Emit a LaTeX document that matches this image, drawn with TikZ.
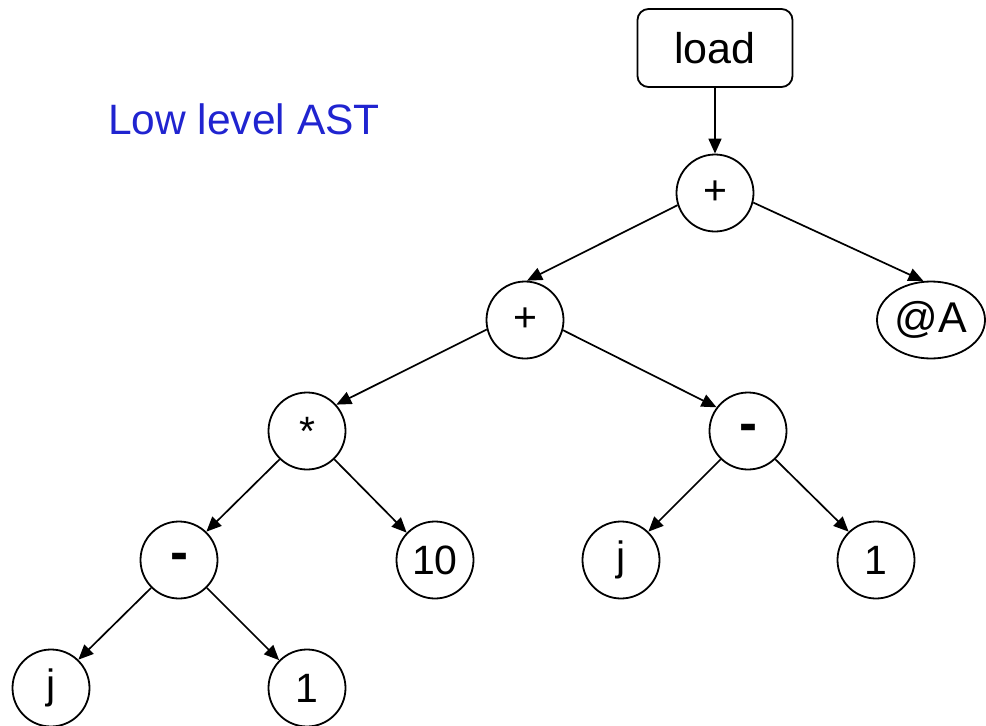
\documentclass[tikz,border=0pt]{standalone}
\usepackage{fontspec}
\setmainfont{Liberation Sans}
\usetikzlibrary{arrows.meta,shapes.geometric}
\definecolor{titleblue}{RGB}{32,36,208}
\tikzset{
  astnode/.style={circle,draw,line width=1.8pt,minimum size=77pt,inner sep=0pt,
    font=\fontsize{41pt}{48pt}\selectfont},
  opnode/.style={astnode,font=\fontsize{54pt}{60pt}\selectfont\bfseries,
    text height=21pt,text depth=0pt},
  loadbox/.style={rectangle,rounded corners=11pt,draw,line width=1.8pt,
    minimum width=155pt,minimum height=78pt,inner sep=0pt,
    font=\fontsize{43pt}{50pt}\selectfont},
  leafoval/.style={ellipse,draw,line width=1.8pt,minimum width=108pt,
    minimum height=77pt,inner sep=0pt,font=\fontsize{43pt}{50pt}\selectfont},
  link/.style={line width=1.7pt,-{Triangle[length=15pt,width=13pt]}},
}
\begin{document}
\begin{tikzpicture}[x=1pt,y=-1pt]
  \useasboundingbox (0,0) rectangle (986,726);

  % caption
  \node[anchor=base west,inner sep=0pt,text=titleblue,
    font=\fontsize{42.5pt}{50pt}\selectfont] (title) at (108,134) {Low level AST};

  % tree nodes
  \node[loadbox] (load) at (715,48) {load};
  \node[astnode] (plusA) at (715,193) {+};
  \node[astnode] (plusB) at (525,320) {+};
  \node[leafoval] (addr) at (931,320) {@A};
  \node[astnode] (mul) at (307,431) {*};
  \node[opnode] (subR) at (748,431) {-};
  \node[opnode] (subL) at (179,560) {-};
  \node[astnode] (ten) at (435,560) {10};
  \node[astnode] (jR) at (621,560) {j};
  \node[astnode] (oneR) at (876,560) {1};
  \node[astnode] (jL) at (51,688) {j};
  \node[astnode] (oneL) at (307,688) {1};

  % connectors
  \draw[link] (load.south) -- (plusA.north);
  \draw[link] (plusA.198) -- (plusB.87);
  \draw[link] (plusA.346) -- (addr.101);
  \draw[link] (plusB.194) -- (mul.42);
  \draw[link] (plusB.345) -- (subR.143);
  \draw[link] (mul.226) -- (subL.46);
  \draw[link] (mul.314) -- (ten.136);
  \draw[link] (subR.226) -- (jR.46);
  \draw[link] (subR.314) -- (oneR.134);
  \draw[link] (subL.225) -- (jL.46);
  \draw[link] (subL.315) -- (oneL.135);
\end{tikzpicture}
\end{document}
